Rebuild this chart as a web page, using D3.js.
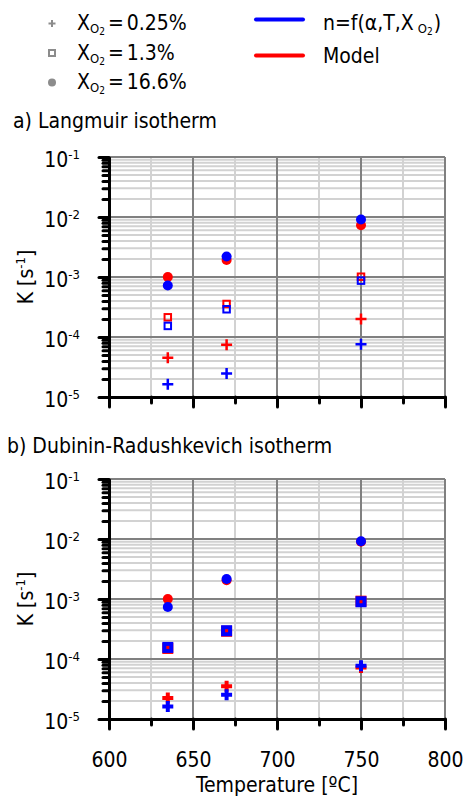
<!DOCTYPE html>
<html>
<head>
<meta charset="utf-8">
<script src="https://cdn.jsdelivr.net/npm/d3@7"></script>
<style>
  body { margin: 0; background: #fff; }
  svg text { font-family: "DejaVu Sans Condensed", "DejaVu Sans", sans-serif; fill: #000; }
</style>
</head>
<body>
<div id="chart"></div>
<script>
// temperatures of the experiments [ºC]
var tempC = [635, 670, 750];

// a) Langmuir isotherm -- "fit" = n=f(a,T,XO2) (blue), "model" = red
var langFitPlus     = [1.63e-5, 2.47e-5, 7.6e-5];
var langModelPlus   = [4.5e-5, 7.4e-5, 2.0e-4];
var langFitSquare   = [1.53e-4, 2.9e-4, 8.7e-4];
var langModelSquare = [2.13e-4, 3.55e-4, 1.01e-3];
var langFitCircle   = [7.2e-4, 2.2e-3, 9.1e-3];
var langModelCircle = [1.0e-3, 1.92e-3, 7.3e-3];

// b) Dubinin-Radushkevich isotherm
var drFitPlus     = [1.62e-5, 2.54e-5, 7.7e-5];
var drModelPlus   = [2.24e-5, 3.5e-5, 7.2e-5];
var drFitSquare   = [1.56e-4, 2.96e-4, 9.0e-4];
var drModelSquare = [1.5e-4, 2.9e-4, 9.2e-4];
var drFitCircle   = [7.35e-4, 2.15e-3, 9.2e-3];
var drModelCircle = [1.0e-3, 2.06e-3, 9.0e-3];

// legend / axis text
var o2Labels = ["0.25%", "1.3%", "16.6%"];
var xTicksMajor = [600, 650, 700, 750, 800];
var xTicksMinor = [625, 675, 725, 775];
var yExponents = [-5, -4, -3, -2, -1];

var W = 464, H = 798;
var RED = "#ff0000", BLUE = "#0000ff", GREY = "#8c8c8c";

var svg = d3.select("#chart").append("svg")
    .attr("width", W)
    .attr("height", H);

var x = d3.scaleLinear().domain([600, 800]).range([109, 445]);

// draw one marker of a given shape
function marker(g, shape, cx, cy, color, bold, filledSquare) {
    if (shape == "circle") {
        g.append("circle").attr("cx", cx).attr("cy", cy).attr("r", 5).attr("fill", color);
    } else if (shape == "square") {
        var s = bold ? 7 : 6.5;
        g.append("rect")
            .attr("x", cx - s / 2).attr("y", cy - s / 2)
            .attr("width", s).attr("height", s)
            .attr("fill", filledSquare ? color : "none")
            .attr("stroke", color)
            .attr("stroke-width", bold ? 4 : 2);
    } else {
        var h = 5.5;
        g.append("path")
            .attr("d", "M" + (cx - h) + "," + cy + "H" + (cx + h) + "M" + cx + "," + (cy - h) + "V" + (cy + h))
            .attr("stroke", color)
            .attr("stroke-width", bold ? 4 : 2.5)
            .attr("fill", "none");
    }
}

function drawPanel(top, bottom, series, bold, showXLabels) {
    var y = d3.scaleLog().domain([1e-5, 1e-1]).range([bottom, top]);
    var g = svg.append("g");

    var yAll = y.ticks();
    var yMajor = yExponents.map(function(e) { return Math.pow(10, e); });
    var yMinor = yAll.filter(function(v) {
        return Math.abs(Math.log10(v) - Math.round(Math.log10(v))) > 1e-6;
    });

    // grid lines
    g.selectAll(".hminor").data(yMinor).enter().append("line")
        .attr("x1", x(600)).attr("x2", x(800))
        .attr("y1", function(d) { return y(d); }).attr("y2", function(d) { return y(d); })
        .attr("stroke", "#d2d2d2").attr("stroke-width", 2);
    g.selectAll(".vminor").data(xTicksMinor).enter().append("line")
        .attr("x1", function(d) { return x(d); }).attr("x2", function(d) { return x(d); })
        .attr("y1", top).attr("y2", bottom)
        .attr("stroke", "#d2d2d2").attr("stroke-width", 2);
    g.selectAll(".hmajor").data(yMajor.slice(1)).enter().append("line")
        .attr("x1", x(600)).attr("x2", x(800))
        .attr("y1", function(d) { return y(d); }).attr("y2", function(d) { return y(d); })
        .attr("stroke", "#808080").attr("stroke-width", 2);
    g.selectAll(".vmajor").data(xTicksMajor.slice(1)).enter().append("line")
        .attr("x1", function(d) { return x(d); }).attr("x2", function(d) { return x(d); })
        .attr("y1", top).attr("y2", bottom)
        .attr("stroke", "#808080").attr("stroke-width", 2);

    // y axis (minor then major ticks)
    var yAxisMinor = d3.axisLeft(y).tickValues(yMinor).tickSize(6).tickSizeOuter(0).tickFormat("");
    var yAxisMajor = d3.axisLeft(y).tickValues(yMajor).tickSize(10).tickSizeOuter(0).tickPadding(19)
        .tickFormat(function() { return ""; });
    var ga = g.append("g").attr("transform", "translate(" + x(600) + ",0)").call(yAxisMinor);
    var gb = g.append("g").attr("transform", "translate(" + x(600) + ",0)").call(yAxisMajor);
    gb.selectAll(".tick text")
        .attr("dy", "0.45em")
        .style("font-size", "21px")
        .each(function(d) {
            var t = d3.select(this);
            t.append("tspan").text("10");
            t.append("tspan").attr("dy", -8).style("font-size", "13px")
                .text("-" + Math.round(-Math.log10(d)));
        });

    // x axis
    var xAxisMinor = d3.axisBottom(x).tickValues(xTicksMinor).tickSize(6).tickSizeOuter(0).tickFormat("");
    var xAxisMajor = d3.axisBottom(x).tickValues(xTicksMajor).tickSize(10).tickSizeOuter(0).tickPadding(23)
        .tickFormat(showXLabels ? d3.format("d") : "");
    var gc = g.append("g").attr("transform", "translate(0," + bottom + ")").call(xAxisMinor);
    var gd = g.append("g").attr("transform", "translate(0," + bottom + ")").call(xAxisMajor);
    gd.selectAll(".tick text").style("font-size", "21px");

    [ga, gb, gc, gd].forEach(function(a) {
        a.selectAll("path.domain").attr("stroke", "#000").attr("stroke-width", 3);
        a.selectAll(".tick line").attr("stroke", "#000").attr("stroke-width", 3)
            .attr("stroke-linecap", "round");
    });

    // y label
    var yl = g.append("text")
        .attr("transform", "translate(33," + ((top + bottom) / 2) + ") rotate(-90)")
        .attr("text-anchor", "middle")
        .style("font-size", "21px");
    yl.append("tspan").text("K [s");
    yl.append("tspan").attr("dy", -8).style("font-size", "13px").text("-1");
    yl.append("tspan").attr("dy", 8).text("]");

    // markers: red model first, blue on top
    var pts = g.append("g");
    series.forEach(function(s) {
        s.values.forEach(function(v, i) {
            marker(pts, s.shape, x(tempC[i]), y(v), s.color, bold, s.filled);
        });
    });
}

drawPanel(157, 397, [
    { shape: "circle", color: RED, values: langModelCircle },
    { shape: "square", color: RED, values: langModelSquare },
    { shape: "plus", color: RED, values: langModelPlus },
    { shape: "circle", color: BLUE, values: langFitCircle },
    { shape: "square", color: BLUE, values: langFitSquare },
    { shape: "plus", color: BLUE, values: langFitPlus }
], false, false);

drawPanel(479, 719, [
    { shape: "circle", color: RED, values: drModelCircle },
    { shape: "square", color: RED, values: drModelSquare, filled: true },
    { shape: "plus", color: RED, values: drModelPlus },
    { shape: "circle", color: BLUE, values: drFitCircle },
    { shape: "square", color: BLUE, values: drFitSquare },
    { shape: "plus", color: BLUE, values: drFitPlus }
], true, true);

// panel titles
svg.append("text").attr("x", 13).attr("y", 128).style("font-size", "21px").text("a) Langmuir isotherm");
svg.append("text").attr("x", 7).attr("y", 453).style("font-size", "21px").text("b) Dubinin-Radushkevich isotherm");

// x axis title
svg.append("text")
    .attr("x", (x(600) + x(800)) / 2).attr("y", 792)
    .attr("text-anchor", "middle")
    .style("font-size", "21px")
    .text("Temperature [ºC]");

// legend: oxygen fraction markers
var legend = svg.append("g");
var shapes = ["plus", "square", "circle"];
o2Labels.forEach(function(lab, i) {
    var cy = 23.5 + i * 29.5;
    if (shapes[i] == "plus") {
        legend.append("path").attr("d", "M48.5," + cy + "H55.5M52," + (cy - 3.5) + "V" + (cy + 3.5))
            .attr("stroke", GREY).attr("stroke-width", 2);
    } else if (shapes[i] == "square") {
        legend.append("rect").attr("x", 49).attr("y", cy - 3).attr("width", 6).attr("height", 6)
            .attr("fill", "none").attr("stroke", GREY).attr("stroke-width", 2);
    } else {
        legend.append("circle").attr("cx", 52).attr("cy", cy).attr("r", 4).attr("fill", GREY);
    }
    var t = legend.append("text").attr("x", 77).attr("y", cy + 6.5).style("font-size", "21px");
    t.append("tspan").text("X");
    t.append("tspan").attr("dy", 3).style("font-size", "13px").text("O");
    t.append("tspan").attr("dy", 2).style("font-size", "10px").text("2");
    t.append("tspan").attr("dx", 3).attr("dy", -5).text("=");
    t.append("tspan").attr("dx", 3).text(lab);
});

// legend: lines
legend.append("line").attr("x1", 256).attr("x2", 303).attr("y1", 19.5).attr("y2", 19.5)
    .attr("stroke", BLUE).attr("stroke-width", 4).attr("stroke-linecap", "round");
legend.append("line").attr("x1", 256).attr("x2", 303).attr("y1", 55.5).attr("y2", 55.5)
    .attr("stroke", RED).attr("stroke-width", 4).attr("stroke-linecap", "round");
var ln = legend.append("text").attr("x", 323).attr("y", 30).style("font-size", "21px");
ln.append("tspan").text("n=f(α,T,X");
ln.append("tspan").attr("dx", 4).attr("dy", 3).style("font-size", "13px").text("O");
ln.append("tspan").attr("dy", 2).style("font-size", "10px").text("2");
ln.append("tspan").attr("dx", 1).attr("dy", -5).text(")");
legend.append("text").attr("x", 323).attr("y", 63).style("font-size", "21px").text("Model");
</script>
</body>
</html>
